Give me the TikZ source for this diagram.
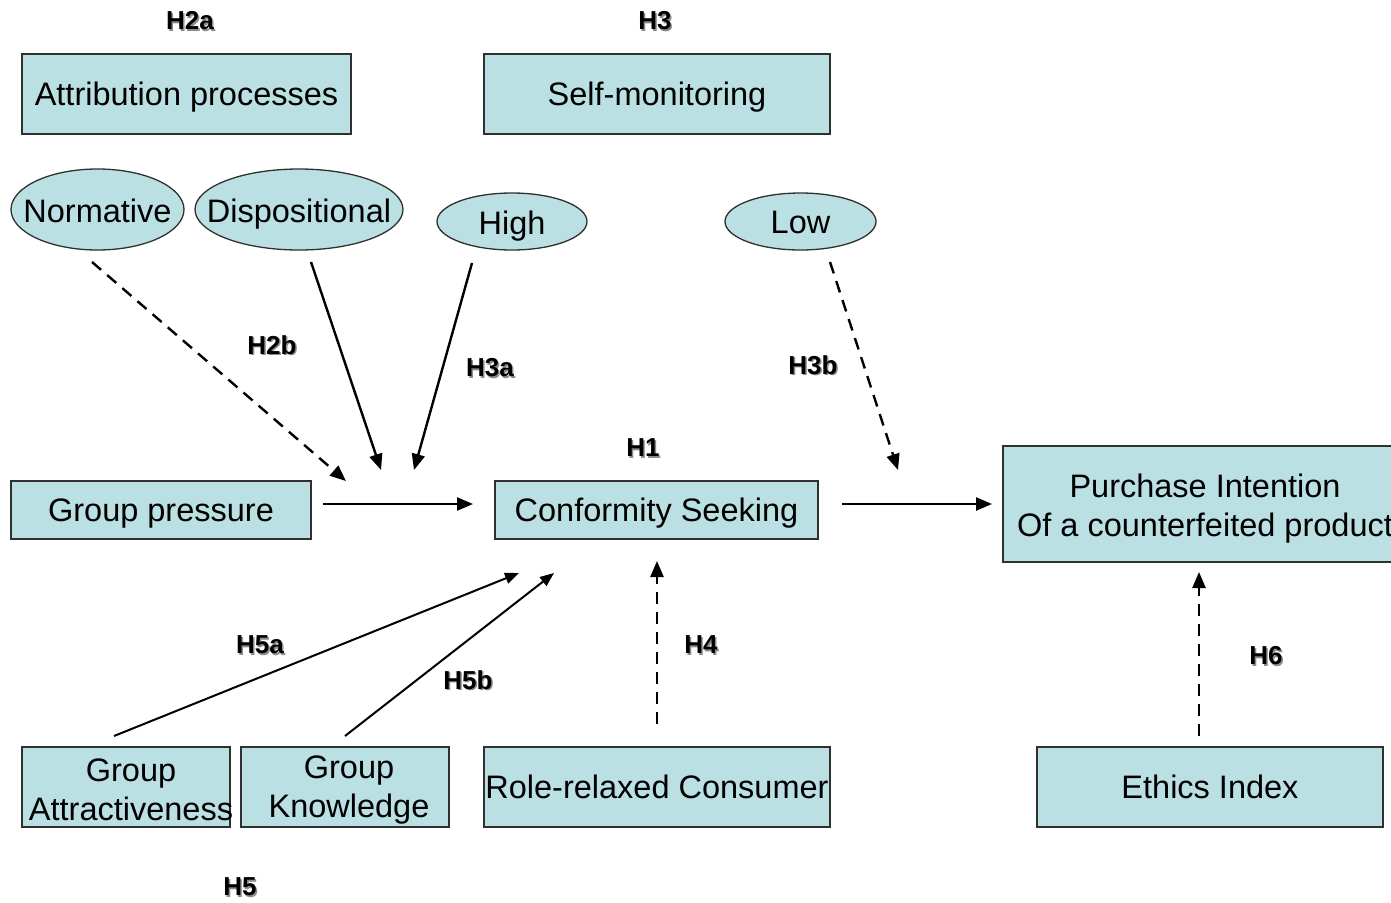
\documentclass[tikz,border=0pt]{standalone}
\usepackage{fontspec}
\setmainfont{Liberation Sans}
\usetikzlibrary{shapes.geometric,arrows.meta}
\definecolor{boxfill}{HTML}{BBE0E3}
\definecolor{boxline}{HTML}{303030}
\newcommand\hlab[4]{%
  \node[lab,text=black!45] at (#2+1.5,#3+1.5) {#4};
  \node[lab] (#1) at (#2,#3) {#4};}
\begin{document}
\begin{tikzpicture}[x=1pt,y=-1pt,
  boxbase/.style={draw=boxline,line width=1.3pt,fill=boxfill,rectangle,inner sep=0pt,
    font=\fontsize{32.5}{39}\selectfont,align=center},
  box/.style={boxbase,text depth=0pt},
  ell/.style={draw=boxline,line width=1.3pt,fill=boxfill,ellipse,inner sep=0pt},
  etext/.style={font=\fontsize{32.5}{39}\selectfont,inner sep=0pt,text depth=0pt},
  lab/.style={font=\fontsize{26}{30}\selectfont\bfseries,inner sep=0pt},
  arr/.style={line width=2.4pt,-{Triangle[length=16pt,width=13pt]}},
  darr/.style={arr,dash pattern=on 12pt off 8pt},
  thin arr/.style={line width=2pt,-{Triangle[length=14pt,width=11pt]}},
]
\clip (0,0) rectangle (1391,902);
\useasboundingbox (0,0) rectangle (1391,902);
\fill[white] (0,0) rectangle (1391,902);

% boxes
\node[box,minimum width=329,minimum height=80] (attr) at (186.5,94) {Attribution processes};
\node[box,minimum width=346,minimum height=80] (self) at (657,94) {Self-monitoring};
\node[box,minimum width=300,minimum height=58] (gp) at (161,510) {Group pressure};
\node[box,minimum width=323,minimum height=58] (cs) at (656.5,510) {Conformity Seeking};
\node[boxbase,minimum width=404,minimum height=116] (pibox) at (1205,504) {};
\node[font=\fontsize{32.5}{39}\selectfont,align=center,inner sep=0pt] (pi) at (1205,509) {Purchase Intention\\Of a counterfeited product};
\node[boxbase,minimum width=208,minimum height=80] (ga) at (126,787) {};
\node[font=\fontsize{32.5}{39}\selectfont,align=center,inner sep=0pt] at (131,790) {Group\\Attractiveness};
\node[boxbase,minimum width=208,minimum height=80] (gk) at (345,787) {};
\node[font=\fontsize{32.5}{39}\selectfont,align=center,inner sep=0pt] at (349,790) {Group\\Knowledge};
\node[box,minimum width=346,minimum height=80] (rr) at (657,787) {Role-relaxed Consumer};
\node[box,minimum width=346,minimum height=80] (ei) at (1210,787) {Ethics Index};

% ellipses
\node[ell,minimum width=173,minimum height=81] (norm) at (97.5,209.5) {};
\node[etext] at (97.5,211) {Normative};
\node[ell,minimum width=208,minimum height=81] (disp) at (299,209.5) {};
\node[etext] at (299,211) {Dispositional};
\node[ell,minimum width=150,minimum height=57] (high) at (512,221.5) {};
\node[etext] at (512,222.5) {High};
\node[ell,minimum width=151,minimum height=57] (low) at (800.5,221.5) {};
\node[etext] at (800.5,222.5) {Low};

% labels
\hlab{h2a}{190}{21}{H2a}
\hlab{h3}{655}{21}{H3}
\hlab{h2b}{272}{345}{H2b}
\hlab{h3a}{490}{368}{H3a}
\hlab{h3b}{813}{365}{H3b}
\hlab{h1}{643}{448}{H1}
\hlab{h5a}{260}{645}{H5a}
\hlab{h5b}{468}{680}{H5b}
\hlab{h4}{701}{645}{H4}
\hlab{h6}{1266}{656}{H6}
\hlab{h5}{240}{887}{H5}

% connector end points
\coordinate (n1) at (92,262);   \coordinate (n2) at (346,481);
\coordinate (d1) at (311,262);  \coordinate (d2) at (381,470);
\coordinate (g1) at (472,263);  \coordinate (g2) at (414,470);
\coordinate (p1) at (323,504);  \coordinate (p2) at (473,504);
\coordinate (l1) at (830,262);  \coordinate (l2) at (898,470);
\coordinate (c1) at (842,504);  \coordinate (c2) at (992,504);
\coordinate (a1) at (114,736);  \coordinate (a2) at (519,573);
\coordinate (k1) at (345,736);  \coordinate (k2) at (554,573);
\coordinate (r1) at (657,724);  \coordinate (r2) at (657,561);
\coordinate (e1) at (1199,736); \coordinate (e2) at (1199,572);

\draw[darr] (n1) -- (n2);
\draw[arr] (d1) -- (d2);
\draw[arr] (g1) -- (g2);
\draw[arr] (p1) -- (p2);
\draw[darr] (l1) -- (l2);
\draw[arr] (c1) -- (c2);
\draw[thin arr] (a1) -- (a2);
\draw[thin arr] (k1) -- (k2);
\draw[darr] (r1) -- (r2);
\draw[darr] (e1) -- (e2);
\end{tikzpicture}
\end{document}
